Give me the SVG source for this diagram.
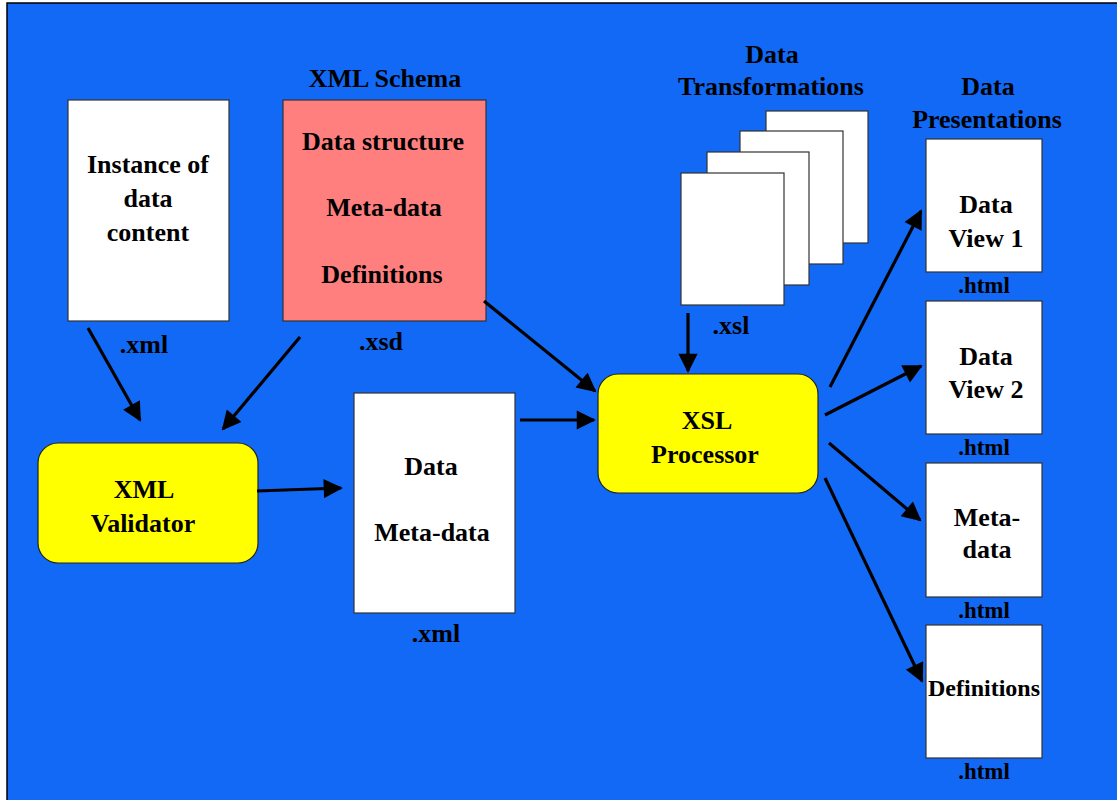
<svg xmlns="http://www.w3.org/2000/svg" width="1117" height="800" viewBox="0 0 1117 800">
<style>
text{font-family:"Liberation Serif","Times New Roman",serif;font-weight:bold;fill:#000;text-anchor:middle}
.t{font-size:26px}
.s{font-size:23px}
.doc{fill:#fff;stroke:#333;stroke-width:1.2}
.proc{fill:#ffff00;stroke:#222;stroke-width:1.2}
.c{stroke:#000;stroke-width:3.2;fill:none;marker-end:url(#ah)}
</style>
<defs>
<marker id="ah" viewBox="0 0 10 10" refX="9" refY="5" markerWidth="6.5" markerHeight="6" markerUnits="strokeWidth" orient="auto">
<path d="M0,0 L10,5 L0,10 z" fill="#000"/>
</marker>
</defs>
<rect x="7" y="3" width="1115" height="802" fill="#1169f6" stroke="#000" stroke-width="1.5"/>

<g id="instance">
<rect class="doc" x="68" y="100" width="161" height="221"/>
<text class="t" x="148" y="173">Instance of</text>
<text class="t" x="148" y="207">data</text>
<text class="t" x="148" y="241">content</text>
<text class="t" x="144" y="353">.xml</text>
</g>

<g id="schema">
<text class="t" x="385" y="87">XML Schema</text>
<rect x="283" y="100" width="203" height="221" fill="#ff7f7f" stroke="#333" stroke-width="1.2"/>
<text class="t" x="383" y="150">Data structure</text>
<text class="t" x="384" y="216">Meta-data</text>
<text class="t" x="382" y="283">Definitions</text>
<text class="t" x="381" y="350">.xsd</text>
</g>

<g id="validator">
<rect class="proc" x="38" y="443" width="220" height="120" rx="20"/>
<text class="t" x="144" y="498">XML</text>
<text class="t" x="143" y="532">Validator</text>
</g>

<g id="datadoc">
<rect class="doc" x="354" y="393" width="161" height="220"/>
<text class="t" x="431" y="475">Data</text>
<text class="t" x="432" y="541">Meta-data</text>
<text class="t" x="436" y="642">.xml</text>
</g>

<g id="xslproc">
<rect class="proc" x="598" y="374" width="220" height="119" rx="20"/>
<text class="t" x="707" y="429">XSL</text>
<text class="t" x="705" y="463">Processor</text>
</g>

<g id="transformations">
<text class="t" x="772" y="63">Data</text>
<text class="t" x="771" y="95">Transformations</text>
<rect class="doc" x="766" y="111" width="102" height="132"/>
<rect class="doc" x="740" y="131" width="103" height="133"/>
<rect class="doc" x="707" y="152" width="102" height="133"/>
<rect class="doc" x="681" y="173" width="103" height="132"/>
<text class="t" x="731" y="334">.xsl</text>
</g>

<g id="presentations">
<text class="t" x="988" y="95">Data</text>
<text class="t" x="987" y="128">Presentations</text>
</g>

<g id="view1">
<rect class="doc" x="926" y="139" width="116" height="133"/>
<text class="t" x="986" y="213">Data</text>
<text class="t" x="986" y="247">View 1</text>
<text class="s" x="984" y="293">.html</text>
</g>

<g id="view2">
<rect class="doc" x="926" y="301" width="116" height="133"/>
<text class="t" x="986" y="365">Data</text>
<text class="t" x="986" y="398">View 2</text>
<text class="s" x="984" y="455">.html</text>
</g>

<g id="metadata">
<rect class="doc" x="926" y="463" width="116" height="134"/>
<text class="t" x="987" y="526">Meta-</text>
<text class="t" x="987" y="558">data</text>
<text class="s" x="984" y="618">.html</text>
</g>

<g id="definitions">
<rect class="doc" x="926" y="625" width="116" height="133"/>
<text x="984" y="696" style="font-size:24px">Definitions</text>
<text class="s" x="984" y="779">.html</text>
</g>

<g id="connectors">
<line class="c" x1="88" y1="328" x2="140" y2="420"/>
<line class="c" x1="300" y1="337" x2="223" y2="429"/>
<line class="c" x1="257" y1="491" x2="341" y2="488"/>
<line class="c" x1="520" y1="420" x2="594" y2="420"/>
<line class="c" x1="484" y1="301" x2="595" y2="391"/>
<line class="c" x1="688" y1="313" x2="688" y2="371"/>
<line class="c" x1="830" y1="387" x2="921" y2="211"/>
<line class="c" x1="825" y1="415" x2="921" y2="366"/>
<line class="c" x1="829" y1="443" x2="920" y2="520"/>
<line class="c" x1="825" y1="478" x2="922" y2="681"/>
</g>
</svg>
